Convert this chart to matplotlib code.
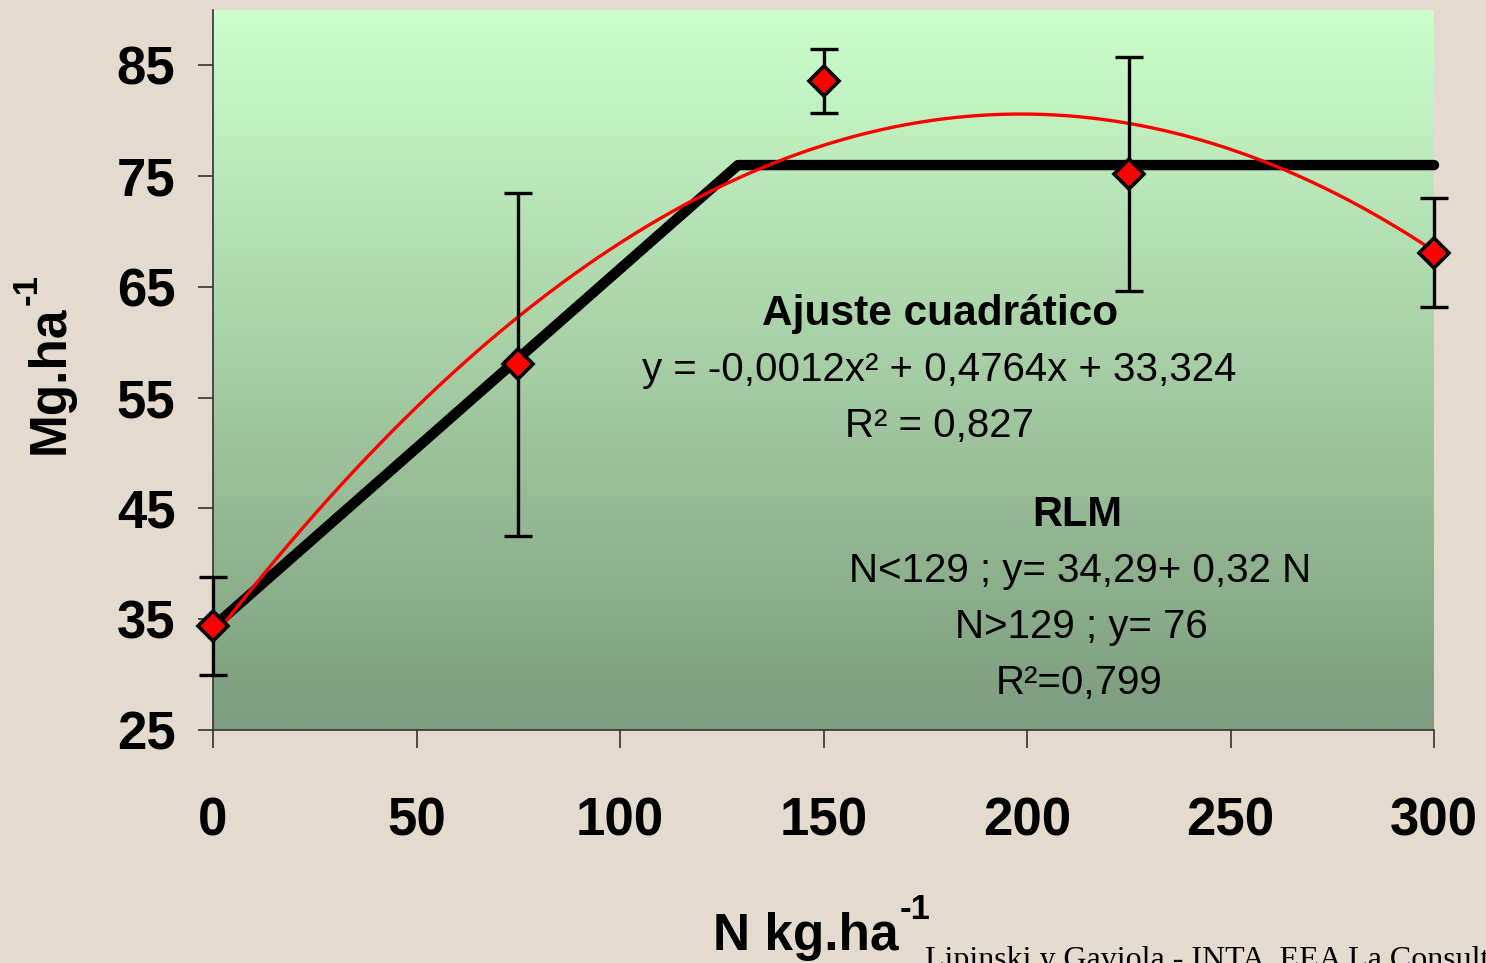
import matplotlib
matplotlib.use('Agg')
import matplotlib.pyplot as plt
import numpy as np
from matplotlib.colors import LinearSegmentedColormap
from matplotlib.transforms import offset_copy

plt.rcParams['font.family'] = ['Liberation Sans', 'DejaVu Sans']

# dosis de N (kg/ha) y rendimiento medio (Mg/ha) con su desvio
dosis = [0, 75, 150, 225, 300]
rend = [34.4, 58.0, 83.6, 75.2, 68.1]
desvio = [4.4, 15.5, 2.9, 10.6, 4.9]

# ajuste cuadratico: y = a x^2 + b x + c
coef_cuad = [-0.0012, 0.4764, 33.324]

# modelo lineal-meseta (RLM)
rlm_x = [0, 129, 300]
rlm_y = [34.29, 76, 76]

xticks = [0, 50, 100, 150, 200, 250, 300]
yticks = [25, 35, 45, 55, 65, 75, 85]

fig = plt.figure(figsize=(14.86, 9.63), dpi=100)
fig.patch.set_facecolor('#e4dacd')
ax = fig.add_axes([213 / 1486, 1 - 730 / 963, (1434 - 213) / 1486, 720 / 963])

# fondo degradado del area de grafico
cmap = LinearSegmentedColormap.from_list('verde', ['#7b9c7d', '#a6cda4', '#ccffcc'])
grad = np.linspace(0, 1, 256).reshape(-1, 1)
ax.imshow(grad, cmap=cmap, origin='lower', extent=[0, 1, 0, 1],
          transform=ax.transAxes, aspect='auto', zorder=0)

ax.plot(rlm_x, rlm_y, color='black', lw=7.5, solid_capstyle='round',
        clip_on=False, zorder=2)

xs = np.linspace(0, 300, 200)
ax.plot(xs, np.polyval(coef_cuad, xs), color='#ff0000', lw=2.4, zorder=3)

ax.errorbar(dosis, rend, yerr=desvio, fmt='none', ecolor='black',
            elinewidth=2.4, capsize=10, capthick=2.4, zorder=4, clip_on=False)
ax.plot(dosis, rend, linestyle='None', marker='D', markersize=15,
        markerfacecolor='#ff0000', markeredgecolor='black',
        markeredgewidth=2.6, zorder=5, clip_on=False)

ax.set_xlim(0, 300)
ax.set_ylim(25, 90)
ax.set_xticks(xticks)
ax.set_yticks(yticks)
for s in ['top', 'right']:
    ax.spines[s].set_visible(False)
for s in ['left', 'bottom']:
    ax.spines[s].set_color('#333333')
    ax.spines[s].set_linewidth(1.2)
ax.tick_params(axis='x', direction='out', length=13, width=1.2,
               pad=35, labelsize=38, color='#333333')
ax.tick_params(axis='y', direction='out', length=11, width=1.2,
               pad=16, labelsize=38, color='#333333')
for lab in ax.get_xticklabels() + ax.get_yticklabels():
    lab.set_fontweight('bold')


def px(x, y):
    return x / 1486, 1 - y / 963


# titulos de ejes con superindice "-1"
fig.canvas.draw()
rend_ = fig.canvas.get_renderer()

xl = fig.text(*px(806, 936), 'N kg.ha', ha='center', va='center',
              fontsize=37, fontweight='bold')
bb = xl.get_window_extent(rend_)
fig.text(bb.x1 + 1, bb.y1 - 14, '-1', transform=None, ha='left',
         va='bottom', fontsize=25, fontweight='bold')

yl = fig.text(*px(50, 380), 'Mg.ha', rotation=90, ha='center', va='center',
              fontsize=37, fontweight='bold')
bb = yl.get_window_extent(rend_)
fig.text(bb.x0 + 18, bb.y1 + 1, '-1', transform=None, rotation=90,
         ha='right', va='bottom', fontsize=25, fontweight='bold')

# textos de las ecuaciones
fig.text(*px(940, 314), 'Ajuste cuadrático', ha='center', va='center',
         fontsize=30.5, fontweight='bold')
fig.text(*px(939, 370), 'y = -0,0012x² + 0,4764x + 33,324', ha='center',
         va='center', fontsize=29)
fig.text(*px(940, 426), 'R² = 0,827', ha='center', va='center', fontsize=29)
fig.text(*px(1077, 515), 'RLM', ha='center', va='center', fontsize=30,
         fontweight='bold')
fig.text(*px(1080, 571), 'N<129 ; y= 34,29+ 0,32 N', ha='center',
         va='center', fontsize=29)
fig.text(*px(1081, 627), 'N>129 ; y= 76', ha='center', va='center',
         fontsize=29)
fig.text(*px(1079, 683), 'R²=0,799', ha='center', va='center', fontsize=29)

fig.text(*px(925, 968), 'Lipinski y Gaviola - INTA  EEA La Consulta',
         ha='left', va='baseline', fontsize=23, family='Liberation Serif')

fig.savefig('out.png', dpi=100, facecolor=fig.get_facecolor())
